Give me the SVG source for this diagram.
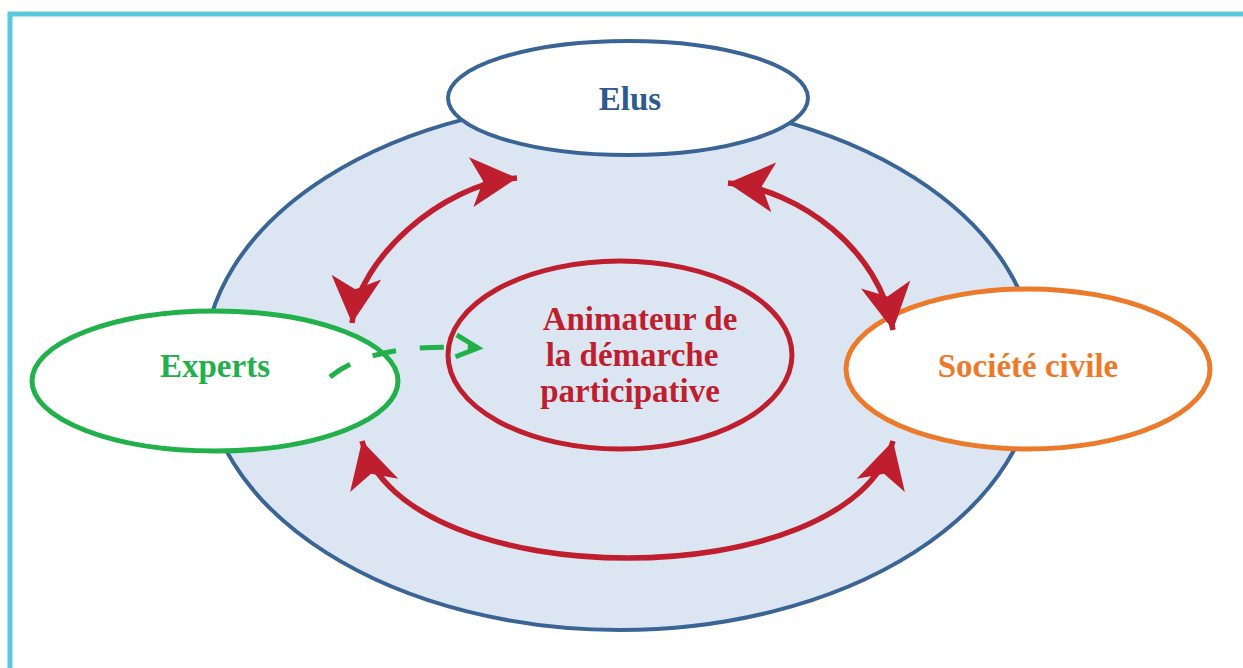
<svg xmlns="http://www.w3.org/2000/svg" width="1243" height="668" viewBox="0 0 1243 668">
<style>
.lbl{font-family:"Liberation Serif","Times New Roman",serif;font-weight:bold;font-size:33px;text-anchor:middle}
.arc{fill:none;stroke:#be1e2d;stroke-width:5.5}
</style>
<defs>
<marker id="ah" markerUnits="userSpaceOnUse" markerWidth="60" markerHeight="60" viewBox="-50 -30 60 60" refX="0" refY="0" orient="auto-start-reverse">
<path d="M0,0 L-46,-25 L-34,0 L-46,25 Z" fill="#be1e2d"/>
</marker>
<marker id="gh" markerUnits="userSpaceOnUse" markerWidth="40" markerHeight="40" viewBox="-30 -20 40 40" refX="0" refY="0" orient="auto">
<path d="M-22,-12 L0,0 L-22,10" fill="none" stroke="#22b04b" stroke-width="5"/>
</marker>
</defs>
<rect width="1243" height="668" fill="#ffffff"/>
<path d="M10,668 V14 H1243" fill="none" stroke="#5bc8de" stroke-width="5"/>
<g id="cadre">
<ellipse cx="620" cy="365" rx="416" ry="265" fill="#dce6f2" stroke="#3a6496" stroke-width="4"/>
</g>
<g id="elus">
<ellipse cx="628" cy="98" rx="180" ry="57" fill="#ffffff" stroke="#3a6496" stroke-width="4"/>
<text class="lbl" x="630" y="110" fill="#2e5a8c">Elus</text>
</g>
<g id="experts">
<ellipse cx="215" cy="381" rx="183" ry="70" fill="#ffffff" stroke="#22b04b" stroke-width="5"/>
<text class="lbl" x="215" y="377" fill="#22b04b">Experts</text>
</g>
<g id="societe">
<ellipse cx="1028" cy="369" rx="182" ry="80" fill="#ffffff" stroke="#ec7a2a" stroke-width="5"/>
<text class="lbl" x="1028" y="377" fill="#ec7a2a">Société civile</text>
</g>
<g id="animateur">
<ellipse cx="620" cy="355" rx="172" ry="94" fill="none" stroke="#be1e2d" stroke-width="5"/>
<text class="lbl" x="640" y="330" fill="#be1e2d">Animateur de</text>
<text class="lbl" x="632" y="366" fill="#be1e2d">la démarche</text>
<text class="lbl" x="630" y="402" fill="#be1e2d">participative</text>
</g>
<g id="connecteurs">
<path class="arc" d="M352,323 C358,260 440,185 517,178" marker-start="url(#ah)" marker-end="url(#ah)"/>
<path class="arc" d="M728,183 C800,190 880,250 893,330" marker-start="url(#ah)" marker-end="url(#ah)"/>
<path class="arc" d="M362,441 C405,597 850,597 893,441" marker-start="url(#ah)" marker-end="url(#ah)"/>
<path d="M330,377 Q372,342 478,348" fill="none" stroke="#22b04b" stroke-width="5" stroke-dasharray="24,24" marker-end="url(#gh)"/>
</g>
</svg>
